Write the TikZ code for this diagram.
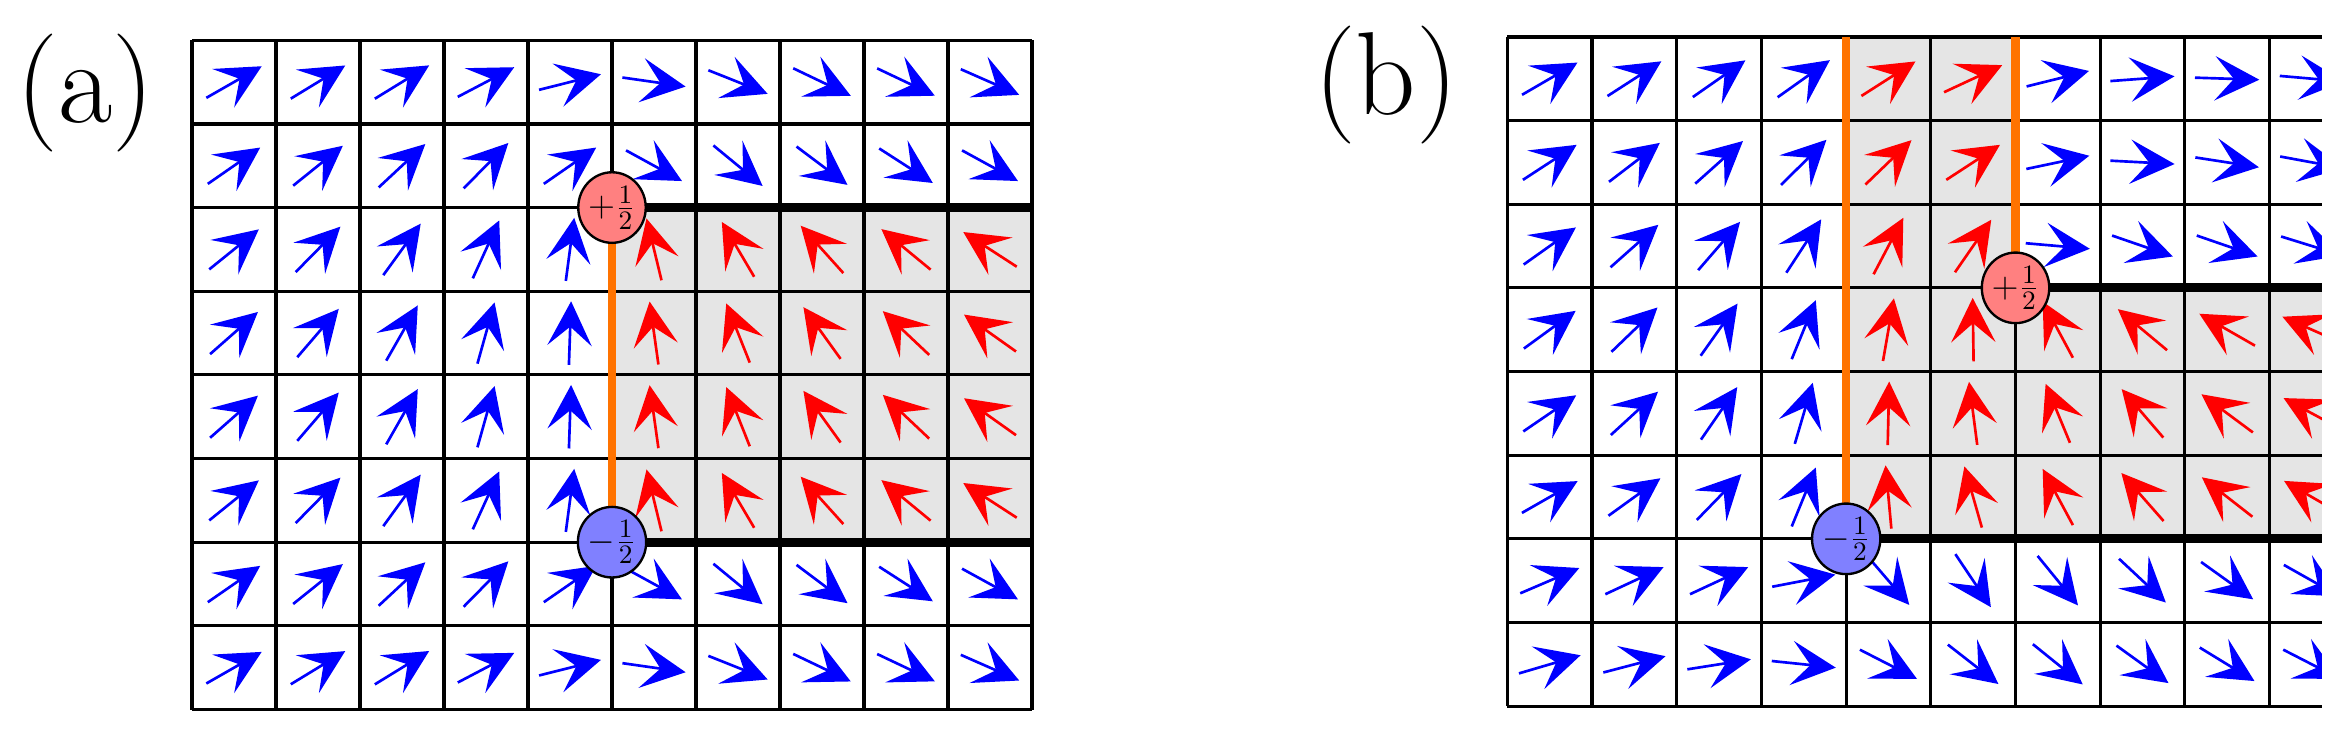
\documentclass[tikz,border=0pt]{standalone}
\usetikzlibrary{arrows.meta,shapes.geometric}
\tikzset{
  spin/.style={line width=0.9pt,-{Stealth[length=15pt,width=15pt,inset=6.4pt]}},
  cellgrid/.style={black,line width=1.1pt},
  wall/.style={orange!90!red,line width=2.8pt},
  cut/.style={black,line width=3pt},
  defect/.style={ellipse,draw,line width=0.8pt,minimum width=0.74cm,minimum height=0.84cm,inner sep=0pt,
    font=\fontsize{13}{13}\selectfont},
  plus/.style={defect,fill=red!50},
  minus/.style={defect,fill=blue!50},
  shade/.style={fill=black!10},
  panel/.style={font=\fontsize{40}{44}\selectfont},
}
\begin{document}
\begin{tikzpicture}
\useasboundingbox (0,4.369) rectangle (27.953,13.107);

\node[panel] (la) at (1.02,12.0) {(a)};
\node[panel] (lb) at (16.5,12.1) {(b)};

% panel (a)
\begin{scope}[shift={(2.286,4.66)},yscale=0.996]
\fill[shade] (5,2) rectangle (10,6);
\draw[cellgrid] (0,0) grid (10,8);
\foreach \i in {0,...,9} \foreach \j in {0,...,7} {
  \pgfmathsetmacro\phiP{mod(atan2(\j+0.5-6,\i+0.5-5)+360,360)}
  \pgfmathsetmacro\phiM{mod(atan2(\j+0.5-2,\i+0.5-5)+360,360)}
  \pgfmathsetmacro\ang{0.5*\phiP-0.5*\phiM+20*sin(\phiP-\phiM)+3}
  \pgfmathtruncatemacro\isred{(\i>4)*(\j>1)*(\j<6)}
  \ifnum\isred=1 \def\col{red}\else\def\col{blue}\fi
  \draw[spin,\col] ([shift={(\ang:-0.38)}]\i+.5,\j+.5) -- ++(\ang:0.76);
}
\coordinate (pa) at (5,6);
\coordinate (ma) at (5,2);
\coordinate (ea) at (10,6);
\coordinate (fa) at (10,2);
\draw[wall] (pa) -- (ma);
\draw[cut] (pa) -- (ea);
\draw[cut] (ma) -- (fa);
\node[plus] (da) at (pa) {$+\frac{1}{2}$};
\node[minus] (db) at (ma) {$-\frac{1}{2}$};
\end{scope}

% panel (b)
\begin{scope}[shift={(17.946,4.70)},xscale=1.008,yscale=0.996]
\clip (-0.1,-0.1) rectangle (9.62,8.1);
\fill[shade] (4,2) rectangle (10,5) (4,5) rectangle (6,8);
\draw[cellgrid] (0,0) grid (10,8);
\foreach \i in {0,...,9} \foreach \j in {0,...,7} {
  \pgfmathsetmacro\phiP{mod(atan2(\j+0.5-5,\i+0.5-6)+360,360)}
  \pgfmathsetmacro\phiM{mod(atan2(\j+0.5-2,\i+0.5-4)+360,360)}
  \pgfmathsetmacro\ang{0.5*\phiP-0.5*\phiM+20*sin(\phiP-\phiM)+3}
  \pgfmathtruncatemacro\isred{(\i>3)*(\j>1)*(\j<5)+(\i>3)*(\i<6)*(\j>4)}
  \ifnum\isred=1 \def\col{red}\else\def\col{blue}\fi
  \draw[spin,\col] ([shift={(\ang:-0.38)}]\i+.5,\j+.5) -- ++(\ang:0.76);
}
\coordinate (pb) at (6,5);
\coordinate (mb) at (4,2);
\coordinate (tp) at (6,8);
\coordinate (tm) at (4,8);
\coordinate (eb) at (10,5);
\coordinate (fb) at (10,2);
\draw[wall] (pb) -- (tp);
\draw[wall] (mb) -- (tm);
\draw[cut] (pb) -- (eb);
\draw[cut] (mb) -- (fb);
\node[plus] (dc) at (pb) {$+\frac{1}{2}$};
\node[minus] (dd) at (mb) {$-\frac{1}{2}$};
\end{scope}
\end{tikzpicture}
\end{document}
